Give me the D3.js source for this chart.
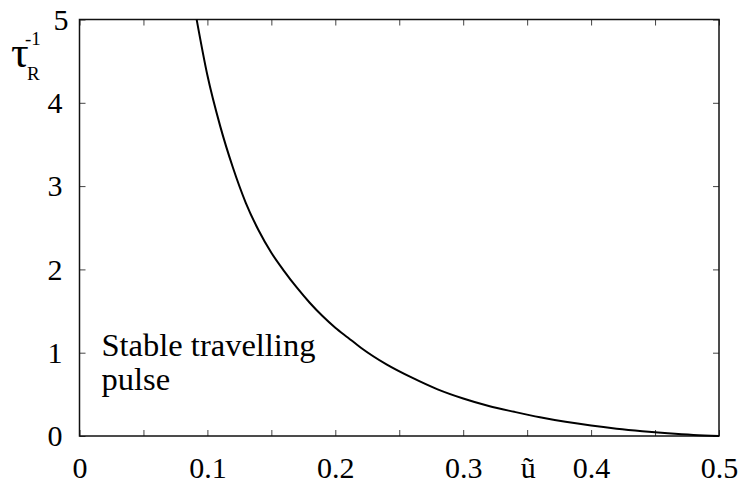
<!DOCTYPE html>
<html>
<head>
<meta charset="utf-8">
<script src="https://cdn.jsdelivr.net/npm/d3@7/dist/d3.min.js"></script>
<style>
  html, body { margin: 0; padding: 0; background: #fff; }
</style>
</head>
<body>
<script>
// ---- data ----
const uValues   = [0.0916, 0.10, 0.11, 0.12, 0.13, 0.14, 0.15, 0.16, 0.17, 0.18, 0.19, 0.20, 0.21, 0.22, 0.24, 0.26, 0.28, 0.30, 0.32, 0.34, 0.36, 0.38, 0.40, 0.42, 0.44, 0.46, 0.48, 0.50];
const tauValues = [5.00, 4.33, 3.72, 3.22, 2.80, 2.47, 2.20, 1.98, 1.78, 1.60, 1.44, 1.30, 1.18, 1.06, 0.86, 0.70, 0.56, 0.45, 0.36, 0.29, 0.225, 0.17, 0.125, 0.088, 0.058, 0.033, 0.013, 0.0];
const xTickValues = [0, 0.05, 0.1, 0.15, 0.2, 0.25, 0.3, 0.35, 0.4, 0.45, 0.5];
const yTickValues = [0, 1, 2, 3, 4, 5];
const xLabel = "ũ";
const annotationLines = ["Stable travelling", "pulse"];

const FONT = '"Liberation Serif", serif';

const W = 741, H = 483;
const margin = { left: 79.5, right: 22, top: 19.5, bottom: 47 };
const svg = d3.select("body").append("svg").attr("width", W).attr("height", H);
const x = d3.scaleLinear().domain([0, 0.5]).range([margin.left, W - margin.right]);
const y = d3.scaleLinear().domain([0, 5]).range([H - margin.bottom, margin.top]);
const fmtX = d => (Math.round(d * 20) % 2 === 0) ? (d === 0 ? "0" : d3.format(".1f")(d)) : "";

function styleAxis(g) {
  g.attr("font-family", null).attr("font-size", null);
  g.select(".domain").remove();
  g.selectAll(".tick line").attr("stroke", "#444").attr("stroke-width", 1);
  g.selectAll(".tick text").style("font-family", FONT).attr("font-size", 30).attr("fill", "#000");
}
// bottom axis
svg.append("g").attr("transform", `translate(0,${y(0)})`)
  .call(d3.axisBottom(x).tickValues(xTickValues).tickFormat(fmtX).tickSizeInner(-6).tickSizeOuter(0).tickPadding(21))
  .call(styleAxis);
// top axis
svg.append("g").attr("transform", `translate(0,${y(5)})`)
  .call(d3.axisTop(x).tickValues(xTickValues).tickFormat("").tickSizeInner(-6).tickSizeOuter(0))
  .call(styleAxis);
// left axis
const gl = svg.append("g").attr("transform", `translate(${x(0)},0)`)
  .call(d3.axisLeft(y).tickValues(yTickValues).tickFormat(d3.format("d")).tickSizeInner(-6).tickSizeOuter(0).tickPadding(17))
  .call(styleAxis);
gl.selectAll(".tick text").filter(d => d === 5).attr("dx", 6);
// right axis
svg.append("g").attr("transform", `translate(${x(0.5)},0)`)
  .call(d3.axisRight(y).tickValues(yTickValues).tickFormat("").tickSizeInner(-6).tickSizeOuter(0))
  .call(styleAxis);

// frame
svg.append("rect")
  .attr("x", x(0)).attr("y", y(5))
  .attr("width", x(0.5) - x(0)).attr("height", y(0) - y(5))
  .attr("fill", "none").attr("stroke", "#111").attr("stroke-width", 1.5);

// curve
const pts = uValues.map((u, i) => [u, tauValues[i]]);
svg.append("path").datum(pts)
  .attr("fill", "none").attr("stroke", "#000").attr("stroke-width", 2)
  .attr("d", d3.line().x(d => x(d[0])).y(d => y(d[1])).curve(d3.curveMonotoneX));

// x label
svg.append("text").attr("x", x(0.35) + 1).attr("y", 478).attr("text-anchor", "middle")
  .style("font-family", FONT).attr("font-size", 30).text(xLabel);

// y label tau_R^-1
const yl = svg.append("g");
yl.append("text").attr("x", 11).attr("y", 67).style("font-family", FONT).attr("font-size", 44).text("τ");
yl.append("text").attr("x", 27).attr("y", 80).style("font-family", FONT).attr("font-size", 19).text("R");
yl.append("text").attr("x", 25).attr("y", 45).style("font-family", FONT).attr("font-size", 19).text("-1");

// annotation
svg.append("g").selectAll("text").data(annotationLines).join("text")
  .attr("x", 101.5).attr("y", (d, i) => 356 + i * 34)
  .style("font-family", FONT).attr("font-size", 32.5).text(d => d);
</script>
</body>
</html>
